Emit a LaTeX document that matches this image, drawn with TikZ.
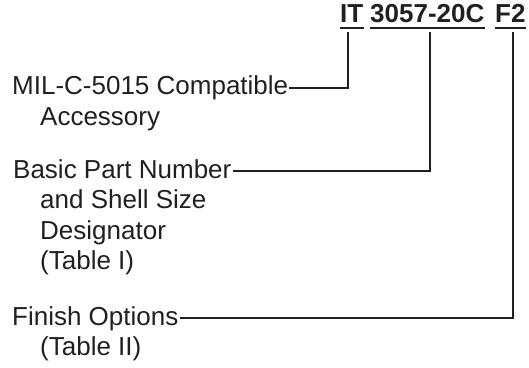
\documentclass[tikz,border=0pt]{standalone}
\usepackage{fontspec}
\setmainfont{Liberation Sans}
\usetikzlibrary{calc}
\definecolor{ink}{HTML}{231F20}
\begin{document}
\begin{tikzpicture}[x=1pt,y=1pt,
  lbl/.style={anchor=base west, inner sep=0pt, font=\fontsize{26}{30}\selectfont, text=ink},
  hdr/.style={anchor=base west, inner sep=0pt, font=\fontsize{26}{30}\selectfont\bfseries, text=ink},
  conn/.style={draw=ink, line width=2pt},
  uline/.style={draw=ink, line width=1.8pt}]
\useasboundingbox (0,0) rectangle (529,367);
% header
\node[hdr] (it) at (340,344) {IT};
\node[hdr] (pn) at (370,344) {3057-20C};
\node[hdr] (fin) at (495,344) {F2};
\foreach \n in {it,pn,fin}{
  \draw[uline] ($(\n.base west)+(0,-5)$) -- ($(\n.base east)+(0,-5)$);
}
\coordinate (itb) at (348,335);
\coordinate (pnb) at (430,335);
\coordinate (finb) at (513,335);
% labels
\node[lbl] (mil1) at (12,272) {MIL-C-5015 Compatible};
\node[lbl] (mil2) at (40,241.5) {Accessory};
\node[lbl] (bas1) at (13,189) {Basic Part Number};
\node[lbl] (bas2) at (40,158.5) {and Shell Size};
\node[lbl] (bas3) at (40,128) {Designator};
\node[lbl] (bas4) at (40,97.5) {(Table I)};
\node[lbl] (fin1) at (12,42) {Finish Options};
\node[lbl] (fin2) at (40,11.5) {(Table II)};
% connectors
\draw[conn] ($(mil1.base east)+(1,7)$) -| (itb);
\draw[conn] ($(bas1.base east)+(1,7)$) -| (pnb);
\draw[conn] ($(fin1.base east)+(1,7)$) -| (finb);
\end{tikzpicture}
\end{document}
